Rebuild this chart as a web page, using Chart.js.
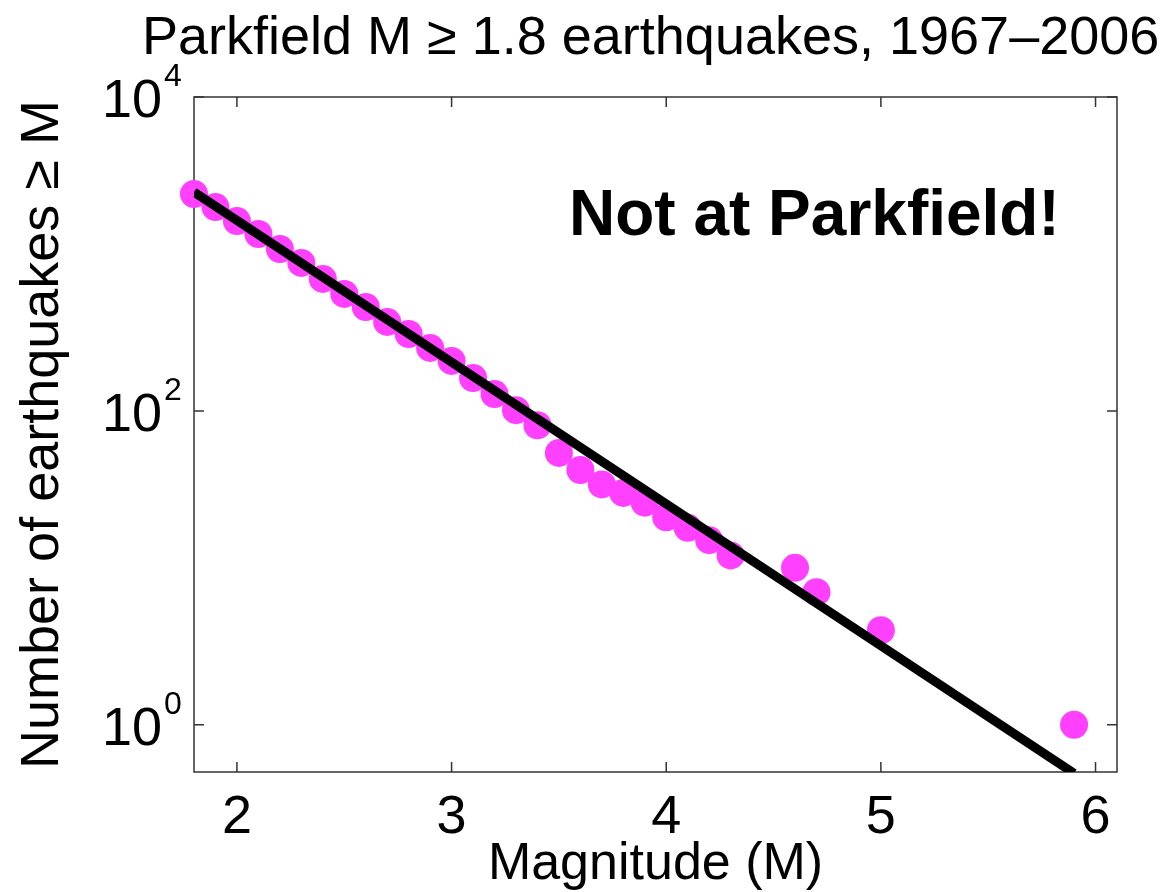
<!DOCTYPE html>
<html>
<head>
<meta charset="utf-8">
<script src="https://cdn.jsdelivr.net/npm/chart.js@4.4.1/dist/chart.umd.min.js"></script>
<style>
  html, body { margin: 0; padding: 0; background: #fff; }
  #wrap { width: 1171px; height: 892px; }
</style>
</head>
<body>
<div id="wrap"><canvas id="gr"></canvas></div>
<script>
// cumulative counts N(>= M), Parkfield catalogue
const magnitudes = [1.8, 1.9, 2.0, 2.1, 2.2, 2.3, 2.4, 2.5, 2.6, 2.7, 2.8, 2.9, 3.0, 3.1, 3.2,
                    3.3, 3.4, 3.5, 3.6, 3.7, 3.8, 3.9, 4.0, 4.1, 4.2, 4.3, 4.6, 4.7, 5.0, 5.9];
const counts = [2410, 1990, 1620, 1340, 1075, 877, 693, 556, 459, 369, 309, 252, 208, 162, 128,
                101, 81, 54, 42, 34, 30, 26, 21, 18, 15, 12, 10, 7, 4, 1];

// Gutenberg-Richter fit line end points
const fitMag = [1.8, 5.9];
const fitCount = [2480, 0.49];

const xTicks = [2, 3, 4, 5, 6];
const yTicks = [1, 100, 10000];

const FONT = '"Liberation Sans", Arial, Helvetica, sans-serif';

// box frame + inward ticks, matlab style (drawn under the data)
const frame = {
  id: 'frame',
  beforeDatasetsDraw(chart) {
    const { ctx, chartArea: a, scales } = chart;
    ctx.save();
    ctx.strokeStyle = '#333';
    ctx.lineWidth = 1.5;
    ctx.strokeRect(a.left, a.top, a.right - a.left, a.bottom - a.top);
    ctx.beginPath();
    xTicks.forEach(v => {
      const x = scales.x.getPixelForValue(v);
      ctx.moveTo(x, a.bottom); ctx.lineTo(x, a.bottom - 10);
      ctx.moveTo(x, a.top); ctx.lineTo(x, a.top + 10);
    });
    yTicks.forEach(v => {
      const y = scales.y.getPixelForValue(v);
      ctx.moveTo(a.left, y); ctx.lineTo(a.left + 10, y);
      ctx.moveTo(a.right, y); ctx.lineTo(a.right - 10, y);
    });
    ctx.stroke();
    ctx.restore();
  },
  afterDraw(chart) {
    const { ctx, scales } = chart;
    ctx.save();
    ctx.fillStyle = '#000';
    ctx.textBaseline = 'alphabetic';
    // title
    ctx.font = '54px ' + FONT;
    ctx.textAlign = 'left';
    ctx.fillText('Parkfield M \u2265 1.8 earthquakes, 1967\u20132006', 142, 54);
    // 10^n labels on the log axis
    yTicks.forEach(v => {
      const y = scales.y.getPixelForValue(v);
      const exp = Math.round(Math.log10(v));
      ctx.font = '54px ' + FONT;
      ctx.textAlign = 'right';
      ctx.fillText('10', 162, y + 20);
      ctx.font = '32px ' + FONT;
      ctx.textAlign = 'left';
      ctx.fillText(String(exp), 164, y - 11);
    });
    ctx.font = 'bold 64px ' + FONT;
    ctx.textAlign = 'left';
    ctx.fillText('Not at Parkfield!', 569, 235);
    ctx.restore();
  }
};

new Chart(document.getElementById('gr'), {
  type: 'scatter',
  data: {
    datasets: [{
      type: 'line',
      data: fitMag.map((m, i) => ({ x: m, y: fitCount[i] })),
      borderColor: '#000',
      borderWidth: 9,
      pointRadius: 0,
      fill: false
    }, {
      data: magnitudes.map((m, i) => ({ x: m, y: counts[i] })),
      backgroundColor: 'rgb(255, 64, 255)',
      borderWidth: 0,
      pointRadius: 14,
      pointHoverRadius: 14,
      clip: false
    }]
  },
  options: {
    responsive: true,
    maintainAspectRatio: false,
    animation: false,
    layout: { padding: { left: 0, right: 54, top: 97, bottom: 0 } },
    plugins: {
      legend: { display: false },
      tooltip: { enabled: false },
      title: { display: false }
    },
    scales: {
      x: {
        type: 'linear',
        min: 1.8,
        max: 6.1,
        grid: { display: false },
        border: { display: false },
        afterBuildTicks: s => { s.ticks = xTicks.map(v => ({ value: v })); },
        afterFit: s => { s.height = 120; },
        ticks: { color: '#000', padding: 6, font: { family: FONT, size: 54 } },
        title: {
          display: true,
          text: 'Magnitude (M)',
          color: '#000',
          font: { family: FONT, size: 52 },
          padding: { top: 0, bottom: -4 }
        }
      },
      y: {
        type: 'logarithmic',
        min: 0.5,
        max: 10000,
        grid: { display: false },
        border: { display: false },
        afterBuildTicks: s => { s.ticks = yTicks.map(v => ({ value: v })); },
        afterFit: s => { s.width = 194; },
        ticks: { display: false },
        title: {
          display: true,
          text: 'Number of earthquakes \u2265 M',
          color: '#000',
          font: { family: FONT, size: 54 },
          padding: { top: 11, bottom: 0 }
        }
      }
    }
  },
  plugins: [frame]
});
</script>
</body>
</html>
